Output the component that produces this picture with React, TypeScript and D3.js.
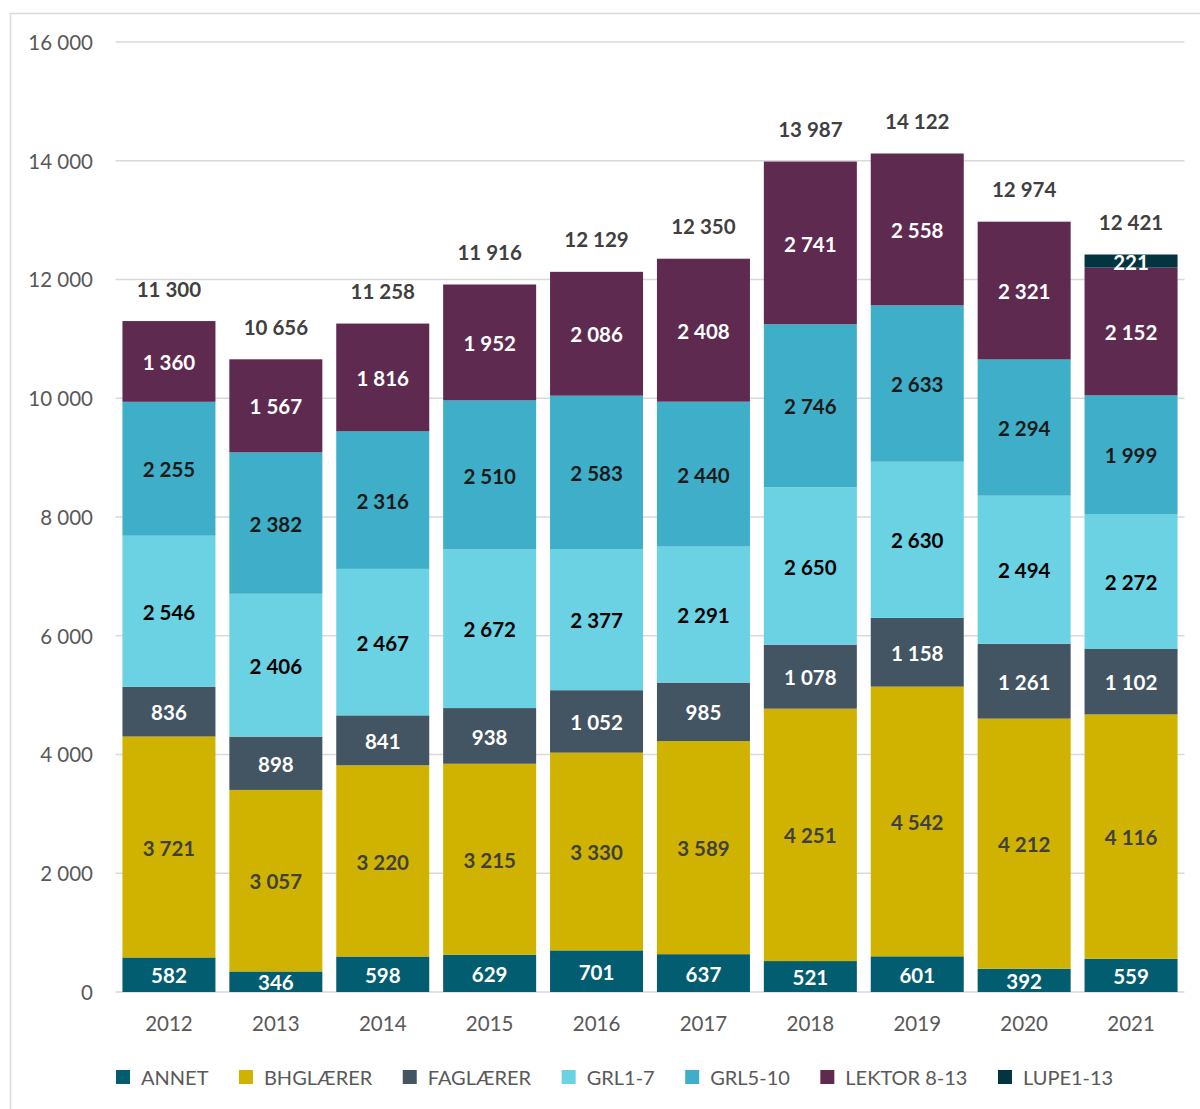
import React from "react";
import * as d3 from "d3";

const years = ["2012", "2013", "2014", "2015", "2016", "2017", "2018", "2019", "2020", "2021"];
const seriesNames = ["ANNET", "BHGLÆRER", "FAGLÆRER", "GRL1-7", "GRL5-10", "LEKTOR 8-13", "LUPE1-13"];
const annet = [582, 346, 598, 629, 701, 637, 521, 601, 392, 559];
const bhglaerer = [3721, 3057, 3220, 3215, 3330, 3589, 4251, 4542, 4212, 4116];
const faglaerer = [836, 898, 841, 938, 1052, 985, 1078, 1158, 1261, 1102];
const grl17 = [2546, 2406, 2467, 2672, 2377, 2291, 2650, 2630, 2494, 2272];
const grl510 = [2255, 2382, 2316, 2510, 2583, 2440, 2746, 2633, 2294, 1999];
const lektor = [1360, 1567, 1816, 1952, 2086, 2408, 2741, 2558, 2321, 2152];
const lupe = [0, 0, 0, 0, 0, 0, 0, 0, 0, 221];
const totals = [11300, 10656, 11258, 11916, 12129, 12350, 13987, 14122, 12974, 12421];
const yTicks = [0, 2000, 4000, 6000, 8000, 10000, 12000, 14000, 16000];

const colors = ["#035d70", "#cfb300", "#435563", "#6ad2e2", "#3faec8", "#5f2a50", "#03343f"];
const labelColors = ["#ffffff", "#404040", "#ffffff", "#000000", "#1a1a1a", "#ffffff", "#ffffff"];

const FONT = "Lato, 'Open Sans', sans-serif";
const fmt = (v: number) => d3.format(",")(v).replace(/,/g, " ");

export default function App() {
  const W = 1200, H = 1109;
  const left = 115.5, right = 1184.5, top = 42, bottom = 992;
  const allSeries = [annet, bhglaerer, faglaerer, grl17, grl510, lektor, lupe];
  const table = years.map((y, i) => {
    const o: any = { year: y };
    seriesNames.forEach((s, k) => (o[s] = allSeries[k][i]));
    return o;
  });
  const stacked = d3.stack<any>().keys(seriesNames)(table);
  const x = d3.scaleBand().domain(years).range([left, right]).paddingInner(0.13).paddingOuter(0.065);
  const y = d3.scaleLinear().domain([0, 16000]).range([bottom, top]);

  const legendFont = 20;
  const canvas = typeof document !== "undefined" ? document.createElement("canvas") : null;
  const ctx = canvas ? canvas.getContext("2d") : null;
  if (ctx) ctx.font = `${legendFont}px ${FONT}`;
  const legendItems: { name: string; x: number; color: string }[] = [];
  let lx = 116;
  seriesNames.forEach((s, k) => {
    legendItems.push({ name: s, x: lx, color: colors[k] });
    const w = ctx ? ctx.measureText(s).width : s.length * 12;
    lx += 14 + 11 + w + 30.5;
  });

  return (
    <svg width={W} height={H} style={{ position: "absolute", left: 0, top: 0 }} fontFamily={FONT}>
      <rect x={0} y={0} width={W} height={H} fill="#ffffff" />
      <rect x={10.5} y={13.5} width={W + 10} height={H + 10} fill="none" stroke="#d9d9d9" strokeWidth={1.5} />
      {yTicks.map((t) => (
        <g key={t}>
          <line x1={left} x2={right} y1={y(t)} y2={y(t)} stroke="#d9d9d9" strokeWidth={1.5} />
          <text x={93} y={y(t)} dy="0.38em" textAnchor="end" fontSize={20.5} fill="#595959">
            {fmt(t)}
          </text>
        </g>
      ))}
      {stacked.map((layer, k) => (
        <g key={layer.key}>
          {layer.map((d, i) =>
            d[1] - d[0] > 0 ? (
              <rect
                key={i}
                x={x(years[i])}
                width={x.bandwidth()}
                y={y(d[1])}
                height={y(d[0]) - y(d[1])}
                fill={colors[k]}
              />
            ) : null
          )}
        </g>
      ))}
      {stacked.map((layer, k) => (
        <g key={"l" + layer.key}>
          {layer.map((d, i) =>
            d[1] - d[0] > 0 ? (
              <text
                key={i}
                x={(x(years[i]) as number) + x.bandwidth() / 2}
                y={(y(d[0]) + y(d[1])) / 2}
                dy="0.42em"
                textAnchor="middle"
                fontSize={20.5}
                fontWeight="bold"
                fill={labelColors[k]}
              >
                {fmt(d[1] - d[0])}
              </text>
            ) : null
          )}
        </g>
      ))}
      {totals.map((t, i) => (
        <text
          key={i}
          x={(x(years[i]) as number) + x.bandwidth() / 2}
          y={y(t) - 33}
          dy="0.42em"
          textAnchor="middle"
          fontSize={20.5}
          fontWeight="bold"
          fill="#404040"
        >
          {fmt(t)}
        </text>
      ))}
      {years.map((yr) => (
        <text
          key={yr}
          x={(x(yr) as number) + x.bandwidth() / 2}
          y={1023}
          dy="0.4em"
          textAnchor="middle"
          fontSize={20.5}
          fill="#595959"
        >
          {yr}
        </text>
      ))}
      {legendItems.map((it) => (
        <g key={it.name}>
          <rect x={it.x} y={1070} width={14} height={14} fill={it.color} />
          <text x={it.x + 25} y={1077} dy="0.38em" fontSize={legendFont} fill="#595959">
            {it.name}
          </text>
        </g>
      ))}
    </svg>
  );
}
